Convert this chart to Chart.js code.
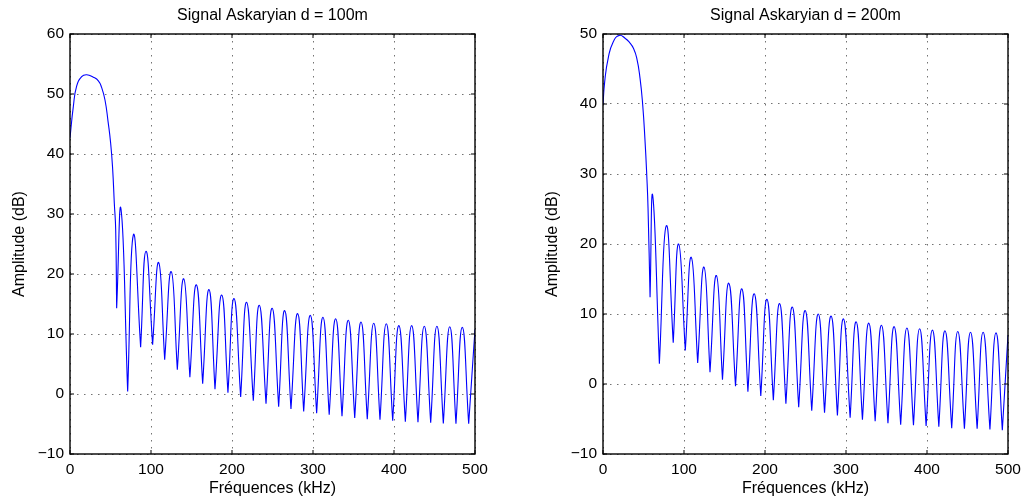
<!DOCTYPE html>
<html>
<head>
<meta charset="utf-8">
<script src="https://cdn.jsdelivr.net/npm/chart.js@4.4.1/dist/chart.umd.min.js"></script>
<style>
  body { margin: 0; background: #fff; }
  canvas { position: absolute; top: 0; }
  #c100 { left: 0; }
  #c200 { left: 533px; }
</style>
</head>
<body>
<canvas id="c100" width="513" height="501"></canvas>
<canvas id="c200" width="494" height="501"></canvas>
<script>
//----------------------------Data (kHz / dB)
// d = 100m : main lobe samples, then side lobes (null -> peak)
var mainKHz100 = [0, 4.1, 8.2, 14.4, 20.6, 28.8, 35, 39, 43.2, 47, 50.2, 52.7, 54.7, 56.4];
var mainDb100 = [42.7, 47.9, 51.3, 52.9, 53.2, 52.8, 52.2, 51.1, 49.0, 45.4, 41.8, 37.4, 31.8, 27.4];
var nullKHz100 = [57.6, 71.2, 87.2, 102, 116.9, 132.5, 148, 163.8, 179, 195, 210.7, 226.3, 242, 257.6, 272.8,
  288.5, 304.5, 320, 335.8, 351.5, 367, 382.7, 398.4, 414, 429.6, 445.3, 460.9, 476.5, 492.2];
var nullDb100 = [14.3, 0.4, 7.8, 8.2, 5.7, 4.05, 2.8, 1.7, 0.8, 0.2, -0.5, -1.1, -1.6, -2.1, -2.5,
  -2.9, -3.2, -3.45, -3.7, -4.0, -4.2, -4.3, -4.45, -4.6, -4.7, -4.8, -4.9, -4.95, -4.95];
var peakKHz100 = [63, 78.2, 93.8, 109.5, 125, 140.4, 156, 171.6, 187.3, 202.5, 218, 233.7, 249.6, 265, 281,
  296.7, 312.3, 328, 343.6, 359.3, 375, 390.5, 406, 421.8, 437.4, 453, 468.8, 484.3, 500];
var peakDb100 = [30.8, 26.5, 23.8, 21.9, 20.4, 19.2, 18.2, 17.4, 16.5, 15.9, 15.3, 14.8, 14.3, 13.9, 13.4,
  13.1, 12.8, 12.55, 12.3, 12.0, 11.8, 11.7, 11.4, 11.4, 11.3, 11.3, 11.2, 11.1, 10.8];

// d = 200m
var mainKHz200 = [0, 2.1, 6.5, 12.7, 20.1, 27.2, 33.4, 37.4, 41.6, 45.7, 49, 51.9, 54, 55.6];
var mainDb200 = [39.9, 43.2, 46.6, 48.9, 49.8, 49.4, 48.7, 48, 46.6, 43.7, 39.9, 34.7, 29.9, 25.1];
var nullKHz200 = [58.1, 69.6, 86.7, 101.6, 116.9, 132.1, 147.5, 163.6, 178.9, 194.8, 210.3, 225.8, 241.6, 257.7, 273.5,
  289.4, 305.1, 320.3, 336.0, 351.8, 367.5, 383.3, 398.9, 414.6, 430.5, 446.2, 461.9, 477.7, 493.0];
var nullDb200 = [12.4, 2.9, 5.9, 4.8, 3.0, 1.7, 0.6, -0.3, -1.1, -1.7, -2.3, -2.8, -3.3, -3.8, -4.1,
  -4.5, -4.8, -5.1, -5.3, -5.6, -5.8, -5.9, -6.0, -6.1, -6.3, -6.4, -6.4, -6.5, -6.6];
var peakKHz200 = [61.4, 78.1, 93.4, 109, 124.7, 140, 155.3, 171.4, 186.7, 202.4, 218.0, 233.7, 249.6, 265.8, 281.6,
  296.8, 312.5, 328.1, 343.8, 359.4, 375.2, 390.9, 406.7, 422.2, 438.0, 453.7, 469.3, 485.2, 500];
var peakDb200 = [26.9, 22.6, 20.0, 18.1, 16.7, 15.5, 14.4, 13.6, 12.9, 12.1, 11.5, 11.0, 10.5, 10.0, 9.7,
  9.3, 8.9, 8.7, 8.4, 8.2, 8.0, 7.9, 7.7, 7.6, 7.5, 7.4, 7.4, 7.3, 7.0];

var xTicks = [0, 100, 200, 300, 400, 500];
var yTicks100 = [-10, 0, 10, 20, 30, 40, 50, 60];
var yTicks200 = [-10, 0, 10, 20, 30, 40, 50];

Chart.defaults.font.family = "'Liberation Sans', Arial, Helvetica, sans-serif";
Chart.defaults.color = '#000';

function buildCurve(mainKHz, mainDb, nullKHz, nullDb, peakKHz, peakDb) {
  var pts = [];
  for (var i = 0; i < mainKHz.length; i++) pts.push({x: mainKHz[i], y: mainDb[i]});
  for (var j = 0; j < nullKHz.length; j++) {
    // null given twice so the curve keeps a sharp cusp there
    pts.push({x: nullKHz[j], y: nullDb[j]});
    pts.push({x: nullKHz[j], y: nullDb[j]});
    pts.push({x: peakKHz[j], y: peakDb[j]});
  }
  return pts;
}

function minus(v) {
  return v < 0 ? '\u2212' + Math.abs(v) : '' + v;
}

// black box + small inward ticks, matlab style
var boxTicks = {
  id: 'boxTicks',
  afterDatasetsDraw: function(chart) {
    var ctx = chart.ctx, a = chart.chartArea;
    var xs = chart.scales.x, ys = chart.scales.y;
    ctx.save();
    ctx.strokeStyle = '#000';
    ctx.lineWidth = 1.4;
    ctx.strokeRect(a.left, a.top, a.right - a.left, a.bottom - a.top);
    ctx.lineWidth = 1;
    ctx.beginPath();
    xs.ticks.forEach(function(t) {
      var px = xs.getPixelForValue(t.value);
      ctx.moveTo(px, a.bottom); ctx.lineTo(px, a.bottom - 4);
      ctx.moveTo(px, a.top); ctx.lineTo(px, a.top + 4);
    });
    ys.ticks.forEach(function(t) {
      var py = ys.getPixelForValue(t.value);
      ctx.moveTo(a.left, py); ctx.lineTo(a.left + 4, py);
      ctx.moveTo(a.right, py); ctx.lineTo(a.right - 4, py);
    });
    ctx.stroke();
    ctx.restore();
  }
};

function makeChart(id, title, pts, yTicks, padRight) {
  var gridDash = [1.5, 5.5];
  return new Chart(document.getElementById(id), {
    type: 'line',
    data: {
      datasets: [{
        data: pts,
        borderColor: '#0000ff',
        borderWidth: 1.1,
        pointRadius: 0,
        tension: 0.5,
        fill: false
      }]
    },
    options: {
      responsive: false,
      animation: false,
      devicePixelRatio: 1,
      layout: { padding: { left: 0, right: padRight, top: 0, bottom: 0 } },
      plugins: {
        legend: { display: false },
        tooltip: { enabled: false },
        title: {
          display: true,
          text: title,
          fullSize: false,
          font: { size: 16, weight: 'normal' },
          padding: { top: 6.4, bottom: 8.4 }
        }
      },
      scales: {
        x: {
          type: 'linear',
          min: xTicks[0],
          max: xTicks[xTicks.length - 1],
          afterBuildTicks: function(s) { s.ticks = xTicks.map(function(v) { return {value: v}; }); },
          afterFit: function(s) { s.height = 47; },
          ticks: { font: { size: 15.5 }, padding: 6, maxRotation: 0, callback: minus },
          grid: { color: 'rgba(0,0,0,0.55)', drawTicks: false, lineWidth: 1 },
          border: { display: false, dash: gridDash },
          title: { display: true, text: 'Fréquences (kHz)', font: { size: 16 }, padding: { top: 0, bottom: 3 } }
        },
        y: {
          type: 'linear',
          min: yTicks[0],
          max: yTicks[yTicks.length - 1],
          afterBuildTicks: function(s) { s.ticks = yTicks.map(function(v) { return {value: v}; }); },
          afterFit: function(s) { s.width = 70; },
          ticks: { font: { size: 15.5 }, padding: 6, callback: minus },
          grid: { color: 'rgba(0,0,0,0.55)', drawTicks: false, lineWidth: 1 },
          border: { display: false, dash: gridDash },
          title: { display: true, text: 'Amplitude (dB)', font: { size: 16 }, padding: { top: 10.4, bottom: 0 } }
        }
      }
    },
    plugins: [boxTicks]
  });
}

//------------------------------------------Draw
makeChart('c100', 'Signal Askaryian d = 100m',
  buildCurve(mainKHz100, mainDb100, nullKHz100, nullDb100, peakKHz100, peakDb100), yTicks100, 38);
makeChart('c200', 'Signal Askaryian d = 200m',
  buildCurve(mainKHz200, mainDb200, nullKHz200, nullDb200, peakKHz200, peakDb200), yTicks200, 19);
</script>
</body>
</html>
